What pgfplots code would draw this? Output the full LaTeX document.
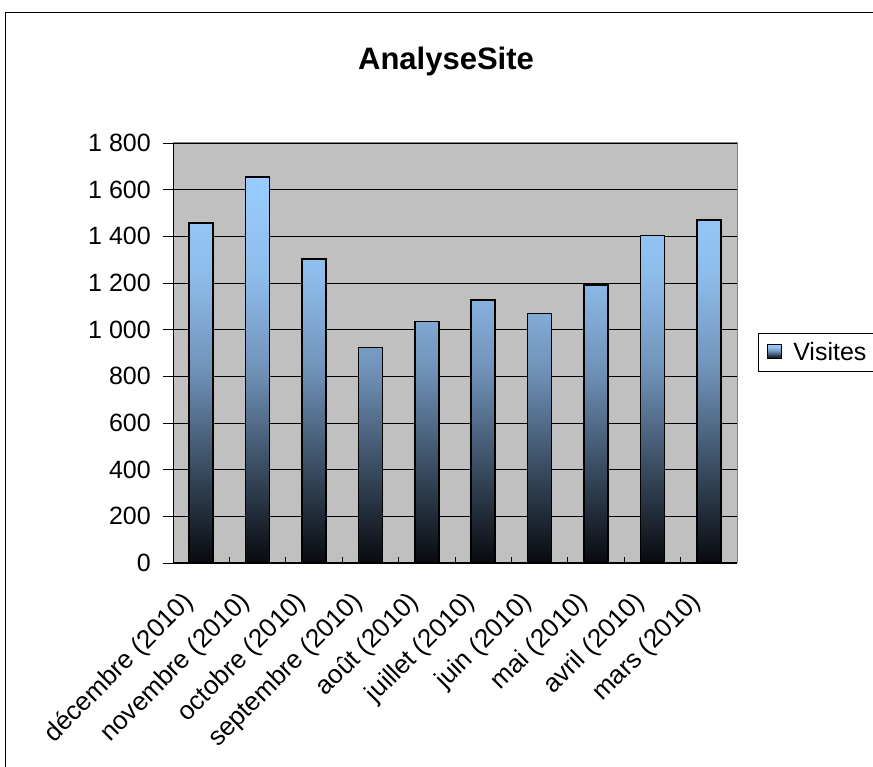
\documentclass[border=0pt]{standalone}
\usepackage{pgfplots}
\pgfplotsset{compat=1.18}
\usepackage{fontspec}
\setmainfont{Liberation Sans}
\definecolor{plotbg}{HTML}{C0C0C0}
\definecolor{frameg}{HTML}{808080}
\definecolor{sA}{HTML}{080A0E}
\definecolor{sB}{HTML}{3A4D62}
\definecolor{sC}{HTML}{7092B8}
\definecolor{sD}{HTML}{8EBDEB}
\definecolor{sE}{HTML}{99CCFF}
\pgfdeclareverticalshading{barshade}{100bp}{color(0bp)=(sA); color(25bp)=(sA); color(37.5bp)=(sB); color(50bp)=(sC); color(62.5bp)=(sD); color(75bp)=(sE); color(100bp)=(sE)}
\begin{document}
\begin{tikzpicture}
\useasboundingbox (0,0) rectangle (873pt,767pt);
\draw[line width=1pt] (5pt,-20pt) rectangle (900pt,754pt);
\node[font=\bfseries\fontsize{31}{36}\selectfont, anchor=base] at (446pt,697pt) {AnalyseSite};
\begin{axis}[
  at={(173pt,204pt)}, anchor=south west,
  scale only axis, width=564pt, height=420pt,
  xmin=-0.5, xmax=9.5, ymin=0, ymax=1800,
  axis background/.style={fill=plotbg},
  axis line style={frameg, line width=1pt},
  ytick={0,200,...,1800},
  ymajorgrids, grid style={black, line width=0.8pt},
  xtick={0,...,9},
  xticklabels={décembre (2010), novembre (2010), octobre (2010), septembre (2010), août (2010), juillet (2010), juin (2010), mai (2010), avril (2010), mars (2010)},
  minor xtick={-0.5,0.5,...,9.5},
  major x tick style={draw=none},
  xtick pos=bottom, ytick pos=left,
  tick align=outside,
  major tick length=10pt,
  minor tick length=-6pt,
  tick style={black, line width=0.8pt},
  tick label style={font=\fontsize{25}{30}\selectfont},
  xticklabel style={rotate=45, anchor=north east, inner sep=3pt, font=\fontsize{26}{30}\selectfont, xshift=-23pt, yshift=6pt},
  yticklabel style={inner sep=12pt},
  /pgf/number format/assume math mode=true,
  /pgf/number format/1000 sep={\ },
  scaled y ticks=false,
  legend style={at={(axis description cs:1.037,0.502)}, anchor=west,
    draw=black, line width=0.8pt, fill=white,
    font=\fontsize{25}{30}\selectfont, inner xsep=9pt, inner ysep=7pt},
  legend image code/.code={\draw[shading=barshade, draw=black, line width=1pt] (2pt,-6pt) rectangle (16pt,8pt);},
]
\addplot[ybar, bar width=0.425, draw=black, line width=1.6pt, shading=barshade]
 coordinates {(0,1457) (1,1653) (2,1302) (3,924) (4,1035) (5,1128) (6,1070) (7,1191) (8,1403) (9,1471)};
\addlegendentry{\makebox[100pt][l]{\hspace{9pt}Visites}}
\draw[black, line width=1.2pt] (rel axis cs:0,0) -- (rel axis cs:0,1);
\draw[black, line width=1.2pt] (rel axis cs:0,0) -- (rel axis cs:1,0);
\end{axis}
\end{tikzpicture}
\end{document}
